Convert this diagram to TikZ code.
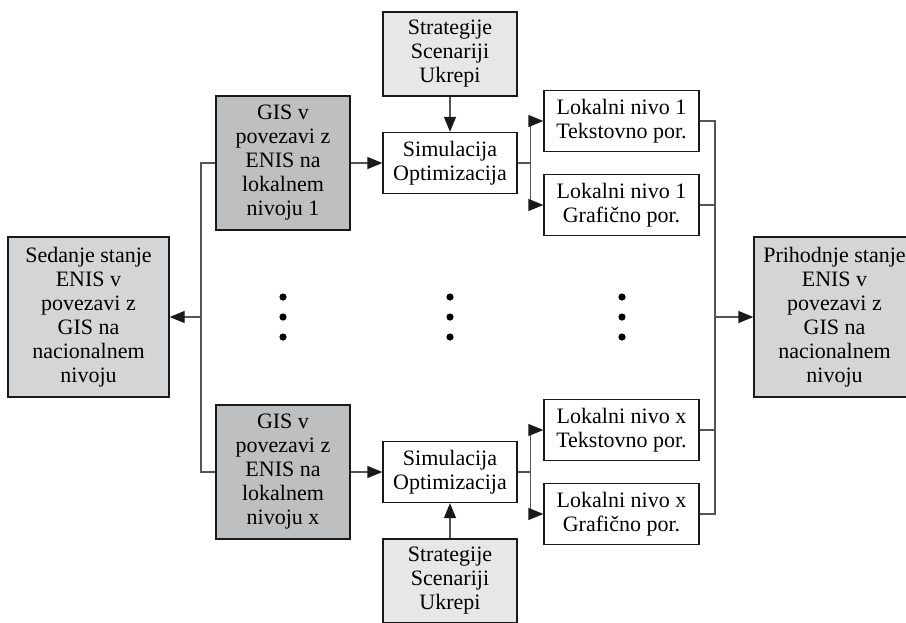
\documentclass[tikz,border=0pt]{standalone}
\usepackage{fontspec}
\setmainfont{Liberation Serif}
\usetikzlibrary{arrows.meta}
\definecolor{gisgray}{RGB}{190,191,193}
\definecolor{stategray}{RGB}{212,213,215}
\definecolor{stratgray}{RGB}{230,231,232}
\definecolor{linegray}{RGB}{85,85,85}

\begin{document}
\begin{tikzpicture}[x=1pt,y=-1pt,>={Triangle[length=15pt,width=12pt,color=black!90]},
  node distance=84pt,line width=1.3pt,
  box/.style={draw=black!90,line width=1.3pt,align=center,inner sep=0pt,
    font=\fontsize{22}{24}\selectfont},
  state node/.style={box,fill=stategray,minimum width=161pt,minimum height=160pt},
  gis node/.style={box,fill=gisgray,minimum width=134pt,minimum height=134pt},
  strat node/.style={box,fill=stratgray,minimum width=134pt,minimum height=84pt},
  sim node/.style={box,fill=white,minimum width=134pt,minimum height=61pt},
  lok node/.style={box,fill=white,minimum width=155pt,minimum height=61pt},
  link/.style={draw=linegray}]
  \useasboundingbox (0,0) rectangle (906,622);

  \node[state node] (sedanje) at (88.5,317) {Sedanje stanje\\ENIS v\\povezavi z\\GIS na\\nacionalnem\\nivoju};
  \node[state node] (prihodnje) at (834.5,317) {Prihodnje stanje\\ENIS v\\povezavi z\\GIS na\\nacionalnem\\nivoju};

  %1
  \node[gis node] (gis1) at (283,163) {GIS v\\povezavi z\\ENIS na\\lokalnem\\nivoju 1};
  \node[sim node] (sim1) at (450,163) {Simulacija\\Optimizacija};
  \node[strat node] (strat1) [above of=sim1,node distance=109pt] {Strategije\\Scenariji\\Ukrepi};
  \node[lok node] (lok1t) at (621.5,121) {Lokalni nivo 1\\Tekstovno por.};
  \node[lok node] (lok1g) [below of=lok1t] {Lokalni nivo 1\\Grafično por.};

  %x
  \node[gis node] (gis2) at (283,472) {GIS v\\povezavi z\\ENIS na\\lokalnem\\nivoju x};
  \node[sim node] (sim2) at (450,472) {Simulacija\\Optimizacija};
  \node[strat node] (strat2) [below of=sim2,node distance=109pt] {Strategije\\Scenariji\\Ukrepi};
  \node[lok node] (lok2t) at (621.5,430) {Lokalni nivo x\\Tekstovno por.};
  \node[lok node] (lok2g) [below of=lok2t] {Lokalni nivo x\\Grafično por.};

  \coordinate (lbus) at (201,317);
  \coordinate (rbus) at (715,317);

  \path[link,->]
    (gis1) edge (sim1)
    (strat1) edge (sim1)
    (gis2) edge (sim2)
    (strat2) edge (sim2);

  % left side
  \draw[link] (gis1) -| (lbus) |- (gis2);
  \draw[link,->] (lbus) -- (sedanje);

  % branches
  \draw[link] (sim1.east) -- ++(13,0) coordinate (br1);
  \draw[link,->] (br1) |- (lok1t);
  \draw[link,->] (br1) |- (lok1g);
  \draw[link] (sim2.east) -- ++(13,0) coordinate (br2);
  \draw[link,->] (br2) |- (lok2t);
  \draw[link,->] (br2) |- (lok2g);

  % right side
  \draw[link] (lok1t) -| (rbus) |- (lok2g);
  \draw[link] (lok1g) -- (lok1g -| rbus);
  \draw[link] (lok2t) -- (lok2t -| rbus);
  \draw[link,->] (rbus) -- (prihodnje);

  \foreach \dx in {283,450,622}
    \foreach \dy in {297,317,337}
      \fill (\dx,\dy) circle (3.6pt);
\end{tikzpicture}
\end{document}
